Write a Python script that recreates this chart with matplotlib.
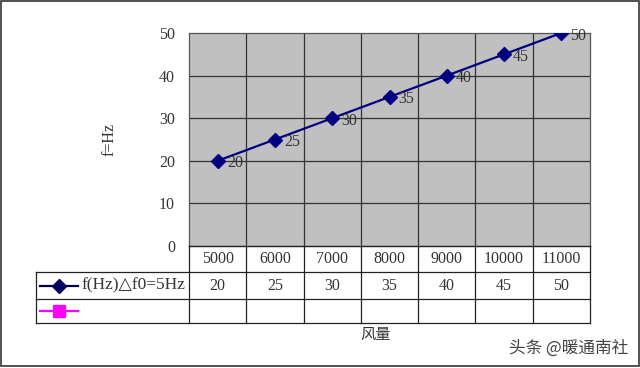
import matplotlib
matplotlib.use("Agg")
import matplotlib.pyplot as plt
from matplotlib.lines import Line2D
from matplotlib.patches import Rectangle

categories = ["5000", "6000", "7000", "8000", "9000", "10000", "11000"]
values = [20, 25, 30, 35, 40, 45, 50]
series1_name = "f(Hz)\u25b3f0=5Hz"
yticks = [0, 10, 20, 30, 40, 50]

W, H = 640, 368
fig = plt.figure(figsize=(W / 100, H / 100), dpi=100)
serif = ["Liberation Serif", "DejaVu Serif"]
cjk = ["Noto Sans CJK SC", "DejaVu Sans"]

def fx(px):
    return px / W

def fy(py):
    return 1 - py / H

# outer frame
fig.add_artist(Rectangle((fx(1), fy(366)), fx(638), (365) / H, transform=fig.transFigure,
                         fill=False, edgecolor="#333333", lw=1.2))

L, R, T, B = 189, 590, 33, 246
ax = fig.add_axes([fx(L), fy(B), fx(R - L), (B - T) / H])
ax.set_facecolor("#c0c0c0")
n = len(categories)
ax.set_xlim(0, n)
ax.set_ylim(0, 50)
xs = [i + 0.5 for i in range(n)]
ax.plot(xs, values, color="#000080", lw=1.6, marker="D", ms=7, zorder=3)
for x, v in zip(xs, values):
    ax.text(x + 0.16, v - 0.6, str(v), fontsize=11.5, family=serif, color="#333333",
            va="center", ha="left", zorder=4)
for i in range(1, n):
    ax.axvline(i, color="#333333", lw=0.9, zorder=1)
for yv in yticks[1:-1]:
    ax.axhline(yv, color="#333333", lw=0.9, zorder=1)
ax.set_xticks([])
ax.set_yticks(yticks)
ax.set_yticklabels([str(t) for t in yticks], family=serif, fontsize=11.5, color="#333333")
ax.tick_params(axis="y", length=0, pad=10)
for s in ax.spines.values():
    s.set_color("#555555")
    s.set_linewidth(0.9)
ax.set_ylabel("f=Hz", family=serif, fontsize=11.5, color="#333333", labelpad=30)

# table
rows = [246, 272, 299, 323]
TL = 36
cw = (R - L) / n
lc = "#222222"
def hline(x0, x1, y):
    fig.add_artist(Line2D([fx(x0), fx(x1)], [fy(y), fy(y)], transform=fig.transFigure, color=lc, lw=0.9))
def vline(x, y0, y1):
    fig.add_artist(Line2D([fx(x), fx(x)], [fy(y0), fy(y1)], transform=fig.transFigure, color=lc, lw=0.9))

hline(L, R, rows[0])
for y in rows[1:]:
    hline(TL, R, y)
vline(TL, rows[1], rows[3])
for i in range(n + 1):
    vline(L + i * cw, rows[0], rows[3])

for i, c in enumerate(categories):
    cx = L + (i + 0.5) * cw
    fig.text(fx(cx), fy((rows[0] + rows[1]) / 2), c, ha="center", va="center",
             family=serif, fontsize=11.5, color="#333333")
    fig.text(fx(cx), fy((rows[1] + rows[2]) / 2), str(values[i]), ha="center", va="center",
             family=serif, fontsize=11.5, color="#333333")

# legend keys
ly1 = (rows[1] + rows[2]) / 2
fig.add_artist(Line2D([fx(40), fx(78)], [fy(ly1), fy(ly1)], transform=fig.transFigure,
                      color="#000040", lw=1.6))
fig.add_artist(Line2D([fx(59)], [fy(ly1)], transform=fig.transFigure, color="#000060",
                      marker="D", ms=7, lw=0))
fig.text(fx(82), fy(ly1), series1_name, ha="left", va="center",
         family=["Liberation Serif", "DejaVu Sans"], fontsize=12.5, color="#333333")
ly2 = (rows[2] + rows[3]) / 2
fig.add_artist(Line2D([fx(40), fx(78)], [fy(ly2), fy(ly2)], transform=fig.transFigure,
                      color="#ff00ff", lw=1.6))
fig.add_artist(Line2D([fx(59)], [fy(ly2)], transform=fig.transFigure, color="#ff00ff",
                      marker="s", ms=9, lw=0))

fig.text(fx(376), fy(334), "风量", ha="center", va="center", family=cjk, fontsize=11, color="#333333")
fig.text(fx(628), fy(348), "头条 @暖通南社", ha="right", va="center", family=cjk,
         fontsize=12, color="#444444")

fig.savefig("out.png", dpi=100)
